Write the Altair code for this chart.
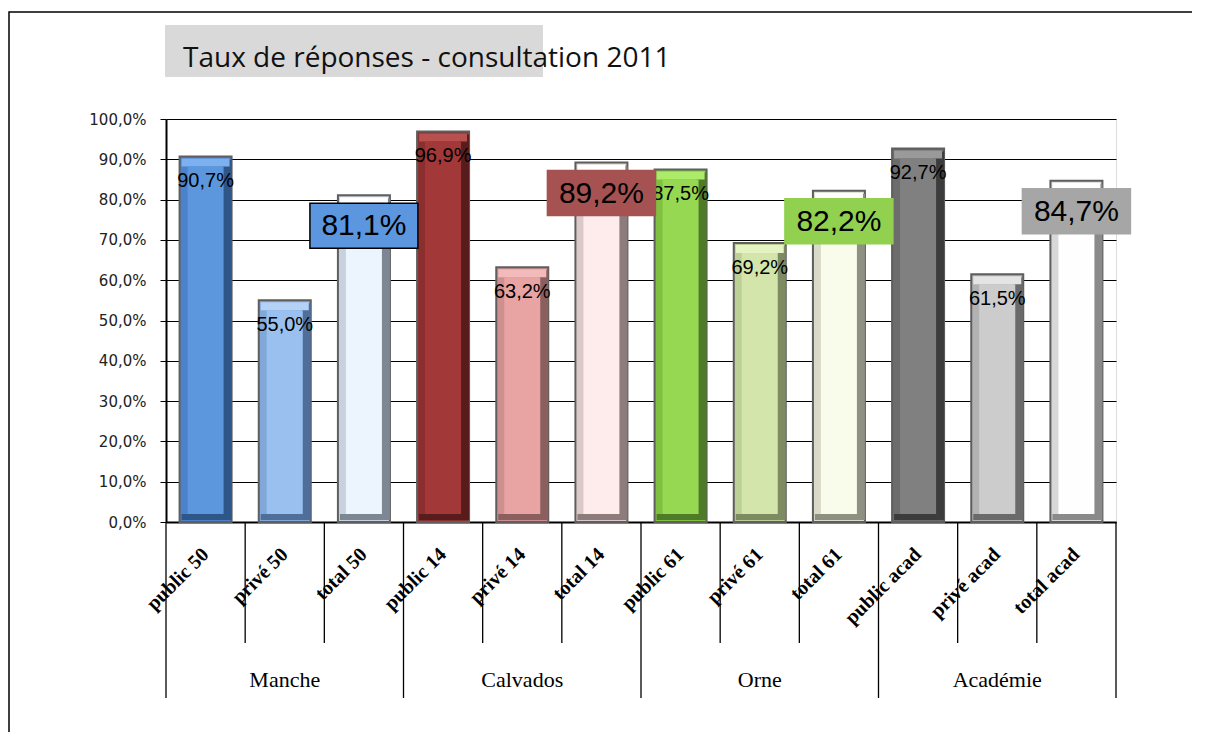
import altair as alt
import pandas as pd

categories = ["public 50", "privé 50", "total 50",
              "public 14", "privé 14", "total 14",
              "public 61", "privé 61", "total 61",
              "public acad", "privé acad", "total acad"]
values = [0.907, 0.550, 0.811,
          0.969, 0.632, 0.892,
          0.875, 0.692, 0.822,
          0.927, 0.615, 0.847]
groups = ["Manche", "Calvados", "Orne", "Académie"]
y_ticks = [0.0, 0.1, 0.2, 0.3, 0.4, 0.5, 0.6, 0.7, 0.8, 0.9, 1.0]
title_text = "Taux de réponses - consultation 2011"

main_c = ["#5c97de", "#9ac0f0", "#ecf4fd", "#a23838", "#e8a3a3", "#feebeb",
          "#96d852", "#d3e5ab", "#fafceb", "#808080", "#cccccc", "#fefefe"]
side_c = ["#4b82cb", "#82a8da", "#c8d2de", "#8c2e2e", "#d08f8f", "#dcc8c8",
          "#80c040", "#bccf94", "#d9dbc8", "#6c6c6c", "#b2b2b2", "#d8d8d8"]
dark_c = ["#2f5689", "#4f6f9a", "#7d8794", "#591c1c", "#8c5f5f", "#8c7c7c",
          "#4f7a28", "#7e8b62", "#8e9082", "#3c3c3c", "#6a6a6a", "#8a8a8a"]
light_c = ["#7cb0ee", "#b4d2f6", "#ffffff", "#b85050", "#f2baba", "#ffffff",
           "#acea6a", "#e5f2c2", "#ffffff", "#9a9a9a", "#e4e4e4", "#ffffff"]
box_c = ["#5b96de", "#a65252", "#92d050", "#a6a6a6"]
box_stroke = ["#000000", "#a65252", "#92d050", "#a6a6a6"]

labels = [f"{v * 100:.1f}%".replace(".", ",") for v in values]
df = pd.DataFrame({"cat": categories, "value": values, "label": labels,
                   "main": main_c, "side": side_c, "dark": dark_c, "light": light_c})
df_small = df[~df["cat"].str.startswith("total")]
df_total = df[df["cat"].str.startswith("total")].copy()
df_total["box"] = box_c
df_total["boxstroke"] = box_stroke

df_groups = pd.DataFrame({"group": groups, "cat": [categories[3 * i + 1] for i in range(4)]})
df_short = pd.DataFrame({"cat": [c for c in categories if not c.startswith("public")]})
df_long = pd.DataFrame({"cat": [c for c in categories if c.startswith("public")]})
df_end = pd.DataFrame({"cat": [categories[-1]]})
one = pd.DataFrame({"a": [0]})

W, H = 950, 403

xscale = alt.Scale(domain=categories, paddingInner=0, paddingOuter=0)
x_axis = alt.Axis(labelAngle=-45, labelFont="Liberation Serif", labelFontSize=20,
                  labelFontWeight="bold", labelColor="#000", ticks=False,
                  domainColor="#000", domainWidth=2, labelPadding=29,
                  labelAlign="right", labelBaseline="middle")


def xe(**kw):
    return alt.X("cat:N", scale=xscale, sort=categories, title=None, axis=x_axis, **kw)


x_enc = xe()
y_enc = alt.Y("value:Q", scale=alt.Scale(domain=[0, 1]), title=None,
              axis=alt.Axis(values=y_ticks,
                            labelExpr="replace(format(datum.value, '.1%'), '.', ',')",
                            labelFont="DejaVu Sans", labelFontSize=15, labelColor="#222",
                            tickColor="#000", tickSize=6, labelPadding=14,
                            domainColor="#000", domainWidth=2,
                            grid=True, gridColor="#000", gridWidth=1))

base = alt.Chart(df)

outer = base.mark_bar(size=52, stroke="#5e5e5e", strokeWidth=2).encode(
    x=x_enc, y=y_enc, y2=alt.datum(0), color=alt.Color("side:N", scale=None))
right_strip = base.mark_bar(size=10, xOffset=21, yOffset=3, y2Offset=-2).encode(
    x=x_enc, y=y_enc, y2=alt.datum(0), color=alt.Color("dark:N", scale=None))
top_strip = base.mark_bar(size=48, yOffset=2, y2Offset=10).encode(
    x=x_enc, y=y_enc, y2=alt.Y2("value:Q"), color=alt.Color("light:N", scale=None))
bottom_strip = base.mark_bar(size=48, yOffset=-8, y2Offset=-2).encode(
    x=x_enc, y=alt.datum(0), y2=alt.datum(0), color=alt.Color("dark:N", scale=None))
face = base.mark_bar(size=36, yOffset=10, y2Offset=-8).encode(
    x=x_enc, y=y_enc, y2=alt.datum(0), color=alt.Color("main:N", scale=None))

small_labels = alt.Chart(df_small).mark_text(
    font="Liberation Sans", fontSize=20, color="#000", dy=25, baseline="middle").encode(
    x=x_enc, y=y_enc, text="label:N")

boxes = alt.Chart(df_total).mark_bar(size=108, yOffset=8, y2Offset=53, strokeWidth=1.5).encode(
    x=x_enc, y=y_enc, y2=alt.Y2("value:Q"),
    color=alt.Color("box:N", scale=None), stroke=alt.Stroke("boxstroke:N", scale=None))
box_text = alt.Chart(df_total).mark_text(
    font="Liberation Sans", fontSize=30, color="#000", dy=31, baseline="middle").encode(
    x=x_enc, y=y_enc, text="label:N")

sep_short = alt.Chart(df_short).mark_rule(color="#000", strokeWidth=1.3).encode(
    x=xe(bandPosition=0), y=alt.value(H), y2=alt.value(H + 121))
sep_long = alt.Chart(df_long).mark_rule(color="#000", strokeWidth=1.3).encode(
    x=xe(bandPosition=0), y=alt.value(H), y2=alt.value(H + 176))
sep_end = alt.Chart(df_end).mark_rule(color="#000", strokeWidth=1.3).encode(
    x=xe(bandPosition=1), y=alt.value(H), y2=alt.value(H + 176))

group_text = alt.Chart(df_groups).mark_text(
    font="Liberation Serif", fontSize=22, color="#000", baseline="middle").encode(
    x=x_enc, y=alt.value(H + 158), text="group:N")

title_box = alt.Chart(one).mark_rect(color="#d9d9d9").encode(
    x=alt.value(-1), x2=alt.value(377), y=alt.value(-94), y2=alt.value(-42))
title = alt.Chart(one).mark_text(
    font="Open Sans", fontSize=28, color="#111", align="left", baseline="alphabetic").encode(
    x=alt.value(17), y=alt.value(-52), text=alt.value(title_text))
border = alt.Chart(one).mark_rect(fill=None, stroke="#000", strokeWidth=1.5).encode(
    x=alt.value(-157), x2=alt.value(1050), y=alt.value(-107), y2=alt.value(700))

chart = alt.layer(
    border, title_box, title,
    outer, right_strip, top_strip, bottom_strip, face,
    small_labels, boxes, box_text,
    sep_short, sep_long, sep_end, group_text,
).properties(
    width=W, height=H,
    autosize=alt.AutoSizeParams(type="none"),
    padding={"left": 158, "top": 111, "right": 76, "bottom": 210},
).configure_view(
    fill="#c0c0c0", stroke="#7f7f7f", strokeWidth=2
).configure(background="#ffffff")

chart.save("out.html", embed_options={"renderer": "svg", "actions": False})
